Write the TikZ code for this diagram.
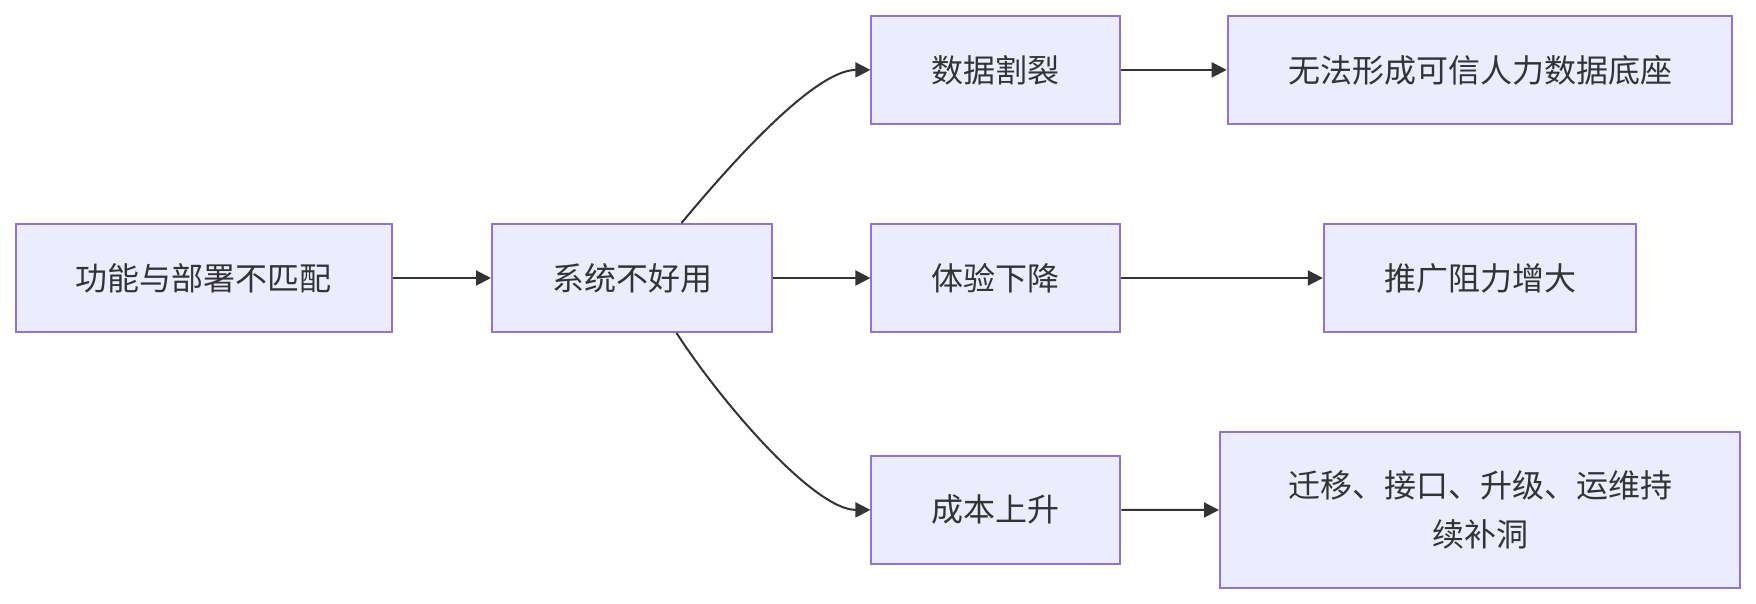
\documentclass[tikz,border=0pt]{standalone}
\usepackage{fontspec}
\setmainfont{Noto Sans CJK SC}
\usetikzlibrary{arrows.meta,calc}
\definecolor{boxfill}{HTML}{ECECFF}
\definecolor{boxline}{HTML}{9370DB}
\definecolor{ink}{HTML}{333333}

\begin{document}
\begin{tikzpicture}[x=0.5pt, y=-0.5pt,
box/.style={draw=boxline, fill=boxfill, line width=1pt, rectangle, minimum height=54pt,
              inner sep=0pt, align=center, text=ink, font=\fontsize{16}{24.3}\selectfont},
lnk/.style={-{Triangle[length=7.5pt, width=7.5pt]}, line width=1pt, draw=ink},
]
\useasboundingbox (0,0) rectangle (1756,604);
\node[box, minimum width=188.25pt] (A) at (203.75,278) {功能与部署不匹配};
\node[box, minimum width=140pt] (B) at (632,278) {系统不好用};
\node[box, minimum width=124.5pt] (C) at (995.9,69.9) {数据割裂};
\node[box, minimum width=124.5pt] (D) at (995.9,278) {体验下降};
\node[box, minimum width=124.5pt] (E) at (995.9,509.9) {成本上升};
\node[box, minimum width=252.3pt] (F) at (1480,69.9) {无法形成可信人力数据底座};
\node[box, minimum width=156.2pt] (G) at (1480,278) {推广阻力增大};
\node[box, minimum width=260pt, minimum height=78.2pt] (H) at (1480,510)
  {迁移、接口、升级、运维持\\续补洞};
\draw[lnk] (A.east) -- (B.west);
\draw[lnk] (B.east) -- (D.west);
\draw[lnk] (B.48) .. controls ($(B.48)+(49,-59)$) and ($(C.west)+(-56,0)$) .. (C.west);
\draw[lnk] (B.-51) .. controls ($(B.-51)+(46,71)$) and ($(E.west)+(-56,0)$) .. (E.west);
\draw[lnk] (C.east) -- (F.west);
\draw[lnk] (D.east) -- (G.west);
\draw[lnk] (E.east) -- (H.west);
\end{tikzpicture}
\end{document}
